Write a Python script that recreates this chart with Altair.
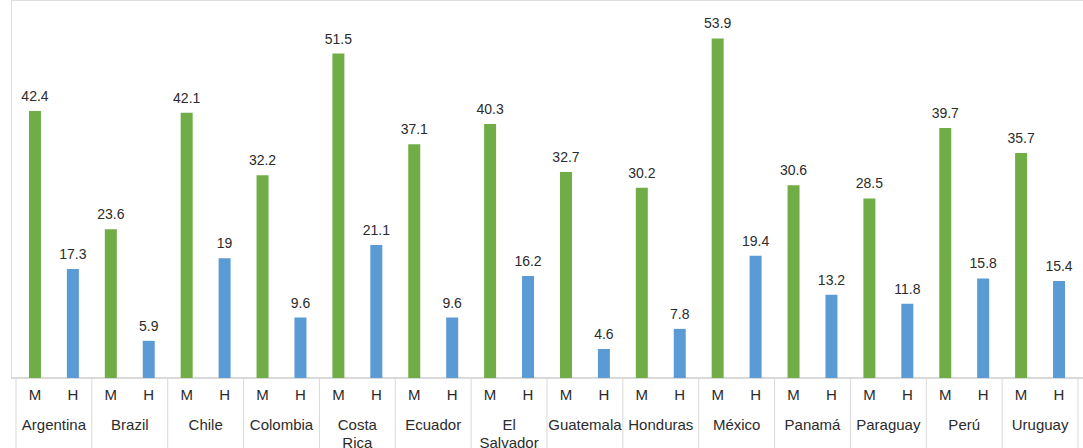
import altair as alt
import pandas as pd

countries = ["Argentina", "Brazil", "Chile", "Colombia", "Costa\nRica", "Ecuador",
             "El\nSalvador", "Guatemala", "Honduras", "México", "Panamá", "Paraguay",
             "Perú", "Uruguay"]
m_vals = [42.4, 23.6, 42.1, 32.2, 51.5, 37.1, 40.3, 32.7, 30.2, 53.9, 30.6, 28.5, 39.7, 35.7]
h_vals = [17.3, 5.9, 19, 9.6, 21.1, 9.6, 16.2, 4.6, 7.8, 19.4, 13.2, 11.8, 15.8, 15.4]
groups = ["M", "H"]
colors = ["#70AD47", "#5B9BD5"]

W, H = 1072, 378
FONT = "Liberation Sans"
TXT = "#2b2b2b"

rows = []
for i, c in enumerate(countries):
    for j, (g, vals) in enumerate(zip(groups, [m_vals, h_vals])):
        v = vals[i]
        rows.append({"pos": i + 0.25 + 0.5 * j, "value": v, "group": g, "label": str(v)})
bars_df = pd.DataFrame(rows)
country_df = pd.DataFrame({"pos": [i + 0.5 for i in range(len(countries))], "name": countries})
sep_df = pd.DataFrame({"pos": list(range(len(countries) + 1))})

xs = alt.Scale(domain=[0, len(countries)], nice=False, zero=False)
ys = alt.Scale(domain=[0, 60], nice=False)
x = alt.X("pos:Q", scale=xs, axis=None)

base = alt.Chart(bars_df)
bars = base.mark_bar(size=12).encode(
    x=x,
    y=alt.Y("value:Q", scale=ys, axis=None),
    color=alt.Color("group:N", scale=alt.Scale(domain=groups, range=colors), legend=None),
)
vals = base.mark_text(dy=-10, baseline="alphabetic", fontSize=14, font=FONT, color=TXT).encode(
    x=x, y=alt.Y("value:Q", scale=ys, axis=None), text="label:N"
)
mh = base.mark_text(baseline="alphabetic", fontSize=15, font=FONT, color=TXT).encode(
    x=x, y=alt.value(400), text="group:N"
)
names = alt.Chart(country_df).mark_text(
    baseline="alphabetic", fontSize=15, font=FONT, color=TXT, lineBreak="\n", lineHeight=18
).encode(x=x, y=alt.value(430), text="name:N")
seps = alt.Chart(sep_df).mark_rule(color="#d9d9d9", strokeWidth=1).encode(
    x=x, y=alt.value(H), y2=alt.value(H + 70)
)
baseline = alt.Chart(sep_df).mark_rule(color="#d9d9d9", strokeWidth=1).encode(
    x=alt.value(0), x2=alt.value(W), y=alt.value(H)
)

chart = alt.layer(seps, baseline, bars, vals, mh, names).properties(
    width=W, height=H,
    autosize=alt.AutoSizeParams(type="none"),
    padding={"left": 11, "top": 0, "right": 0, "bottom": 70},
).configure_view(stroke=None).configure(background="white")

chart.save("out.html", embed_options={"renderer": "svg", "actions": False})
